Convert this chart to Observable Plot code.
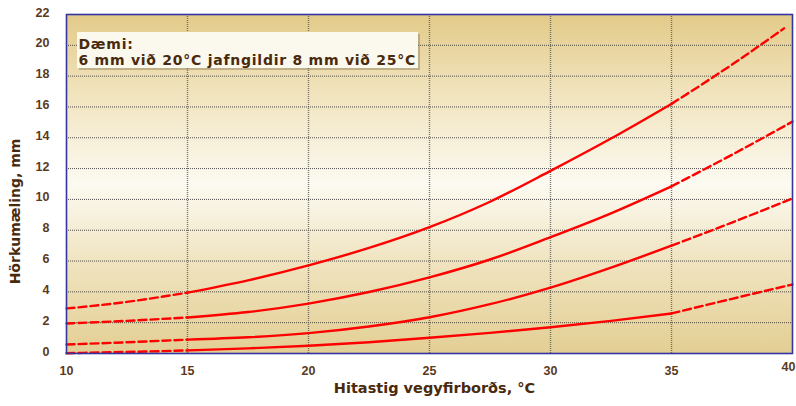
<!DOCTYPE html>
<html><head><meta charset="utf-8">
<script src="https://cdn.jsdelivr.net/npm/d3@7"></script>
<script src="https://cdn.jsdelivr.net/npm/@observablehq/plot@0.6"></script>
<style>body{margin:0;background:#fff}#chart svg{display:block}</style>
</head><body><div id="chart"></div>
<script>
// Temperatures (°C) at which the curves were read
const temps = [10, 12.5, 15, 17.5, 20, 22.5, 25, 27.5, 30, 32.5, 35, 37.5, 40];
// top curve stops a little short of 40 °C
const tempsA = [10, 12.5, 15, 17.5, 20, 22.5, 25, 27.5, 30, 32.5, 35, 37.5, 39.65];
// Four equivalence curves (hardness reading, mm)
const curveA = [2.92, 3.35, 3.95, 4.75, 5.72, 6.85, 8.2, 9.85, 11.85, 13.95, 16.2, 18.75, 21.1];
const curveB = [1.95, 2.12, 2.34, 2.69, 3.24, 3.99, 4.94, 6.1, 7.55, 9.1, 10.85, 12.9, 15.05];
const curveC = [0.58, 0.73, 0.9, 1.05, 1.32, 1.75, 2.35, 3.2, 4.27, 5.57, 7.0, 8.5, 10.06];
const curveD = [0.02, 0.1, 0.2, 0.33, 0.5, 0.73, 1.02, 1.34, 1.7, 2.12, 2.6, 3.55, 4.48];
const curveNames = ["A", "B", "C", "D"];
const solidFrom = 15, solidTo = 35;

const xTicks = [10, 15, 20, 25, 30, 35];
const xLastTick = [40];
const yTicks = [0, 2, 4, 6, 8, 10, 12, 14, 16, 18, 20, 22];
const xGrid = [15, 20, 25, 30, 35];
const yGrid = [2, 4, 6, 8, 10, 12, 14, 16, 18, 20];
const noteLines = ["Dæmi:", "6 mm við 20°C jafngildir 8 mm við 25°C"];
const xTitle = "Hitastig vegyfirborðs, °C";
const yTitle = "Hörkumæling, mm";

const allCurves = [[tempsA, curveA], [temps, curveB], [temps, curveC], [temps, curveD]];
const rows = [];
allCurves.forEach(([ts, vals], k) => vals.forEach((v, i) => rows.push({curve: curveNames[k], t: ts[i], v})));
const seg = (lo, hi) => rows.filter(d => d.t >= lo && d.t <= hi);

const brown = "#4a2a0c";

function background(index, scales, values, dims) {
  const x0 = scales.x(10), x1 = scales.x(40), y0 = scales.y(22), y1 = scales.y(0);
  const g = d3.create("svg:g");
  const grad = g.append("defs").append("linearGradient")
    .attr("id", "bgGrad").attr("x1", 0).attr("x2", 0).attr("y1", 0).attr("y2", 1);
  [[0, "#e2ca88"], [0.2, "#efe0b6"], [0.5, "#fcfaf1"], [0.75, "#efe2bc"], [1, "#e3cf94"]]
    .forEach(([o, c]) => grad.append("stop").attr("offset", o).attr("stop-color", c));
  g.append("rect").attr("x", x0).attr("y", y0).attr("width", x1 - x0).attr("height", y1 - y0)
    .attr("fill", "url(#bgGrad)");
  return g.node();
}

function noteBox(index, scales, values, dims) {
  const g = d3.create("svg:g");
  const left = dims.marginLeft + 11, top = dims.marginTop + 18, w = 341, h = 36;
  g.append("rect").attr("x", left + 2).attr("y", top + 2).attr("width", w).attr("height", h)
    .attr("fill", "#8a7a60").attr("opacity", 0.45);
  g.append("rect").attr("x", left).attr("y", top).attr("width", w).attr("height", h)
    .attr("fill", "#fbf8ee");
  return g.node();
}

function yTitleMark(index, scales, values, dims) {
  const cy = (scales.y(0) + scales.y(22)) / 2 + 28;
  return d3.create("svg:text")
    .attr("transform", `translate(${dims.marginLeft - 51},${cy}) rotate(-90)`)
    .attr("text-anchor", "middle").attr("dy", "0.35em")
    .attr("font-family", "DejaVu Sans").attr("font-size", 14).attr("font-weight", "bold")
    .attr("fill", brown).text(yTitle).node();
}

const lineOpts = {x: "t", y: "v", z: "curve", stroke: "#ff0000", strokeWidth: 2.4, curve: "monotone-x"};
const tickStyle = {tickSize: 0, fontSize: 12.5, fontWeight: "bold", fill: "#5a3a1e", label: null};

const chart = Plot.plot({
  width: 796,
  height: 406,
  marginLeft: 66,
  marginRight: 4,
  marginTop: 14,
  marginBottom: 53,
  x: {domain: [10, 40]},
  y: {domain: [0, 22]},
  style: {fontFamily: "Liberation Sans", background: "#fff"},
  marks: [
    background,
    Plot.gridY(yGrid, {stroke: "#333", strokeOpacity: 0.85, strokeDasharray: "1,1"}),
    Plot.gridX(xGrid, {stroke: "#555", strokeOpacity: 0.8, strokeWidth: 1.4, strokeDasharray: "1,1"}),
    Plot.line(seg(10, solidFrom), {...lineOpts, strokeDasharray: "8,4"}),
    Plot.line(seg(solidFrom, solidTo), lineOpts),
    Plot.line(seg(solidTo, 40), {...lineOpts, strokeDasharray: "8,4"}),
    Plot.frame({stroke: "#3535a0", strokeWidth: 1.6}),
    noteBox,
    Plot.text([noteLines.join("\n")], {frameAnchor: "top-left", dx: 12, dy: 23, textAnchor: "start",
      lineAnchor: "top", lineHeight: 1.143, fontSize: 14, fontWeight: "bold", fill: brown,
      fontFamily: "DejaVu Sans"}),
    Plot.axisY(yTicks, {...tickStyle, tickPadding: 17, dy: -2}),
    Plot.axisX(xTicks, {...tickStyle, tickPadding: 13}),
    Plot.axisX(xLastTick, {...tickStyle, tickPadding: 9, dx: -4}),
    yTitleMark,
    Plot.text([xTitle], {frameAnchor: "bottom", dx: 5, dy: 39, fontSize: 14.5,
      fontWeight: "bold", fill: brown, fontFamily: "DejaVu Sans"})
  ]
});
d3.select(chart).selectAll("text").filter(function() { return this.textContent.startsWith("Dæmi"); })
  .attr("letter-spacing", "0.75px");
document.getElementById("chart").appendChild(chart);
</script>
</body></html>
